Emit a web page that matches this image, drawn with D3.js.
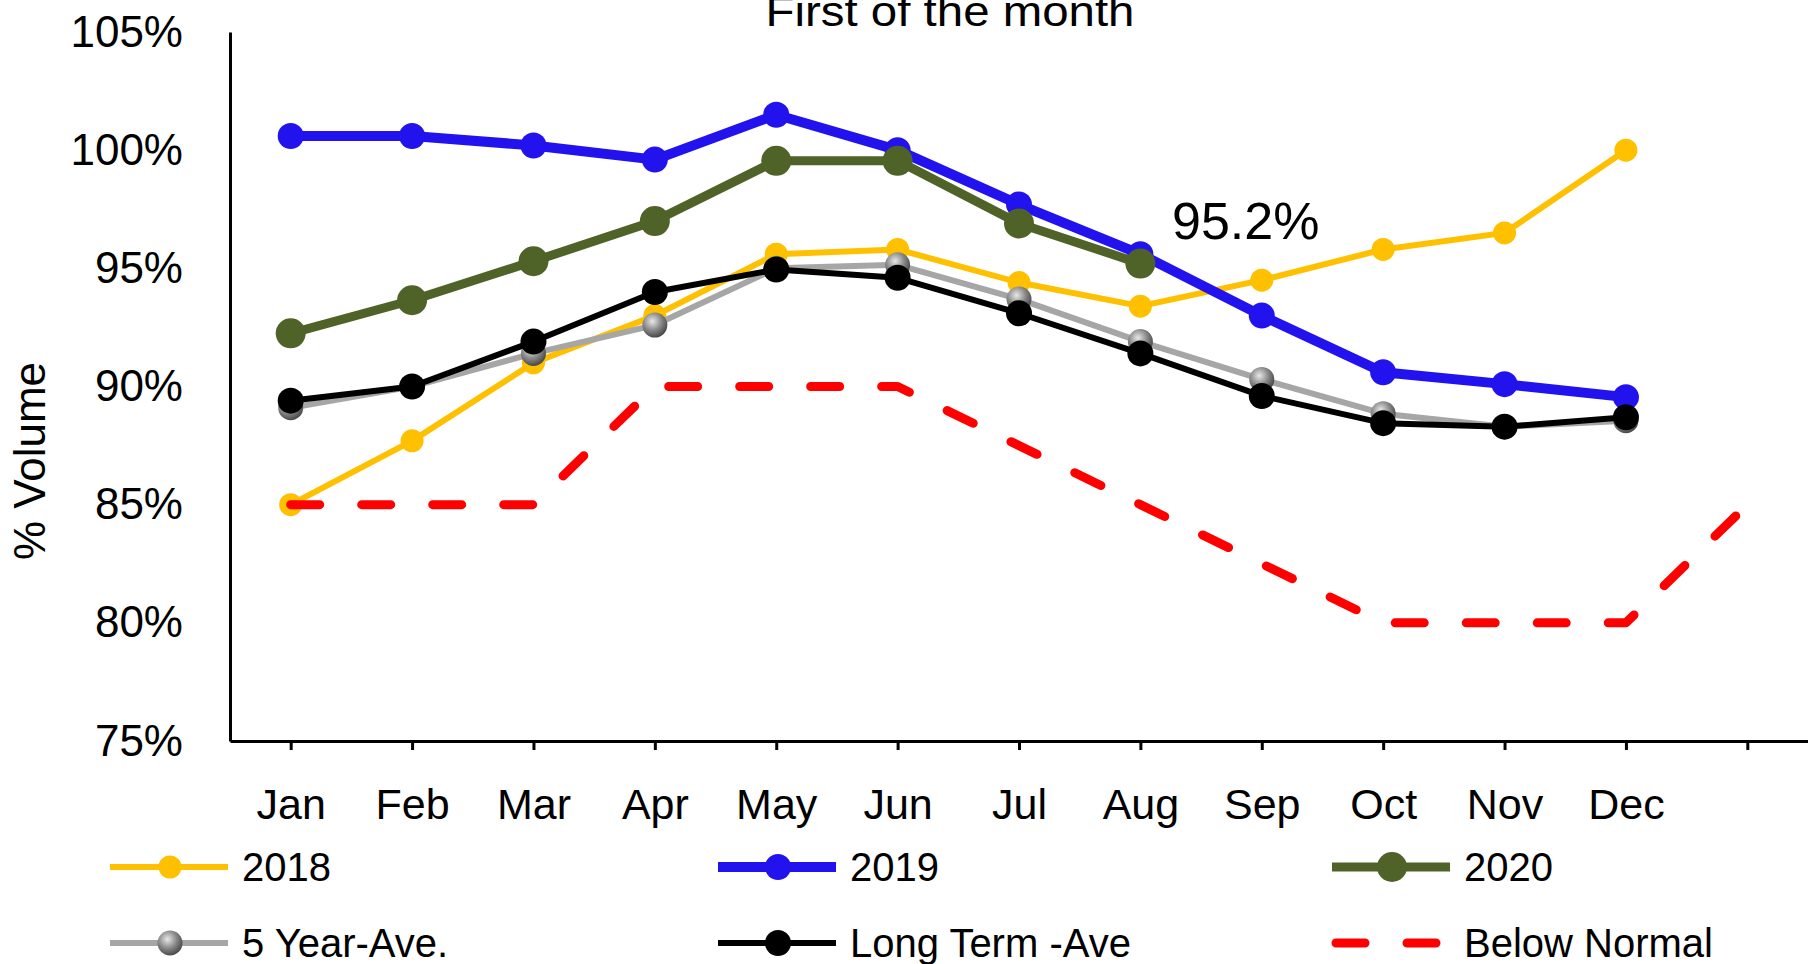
<!DOCTYPE html>
<html>
<head>
<meta charset="utf-8">
<script src="https://cdn.jsdelivr.net/npm/d3@7"></script>
<style>
  html, body { margin: 0; padding: 0; background: #fff; }
  svg { display: block; }
  text { font-family: "Liberation Sans", Arial, sans-serif; fill: #000; }
</style>
</head>
<body>
<svg id="chart" width="1808" height="964"></svg>
<script>
// ---- data ----
const months = ["Jan", "Feb", "Mar", "Apr", "May", "Jun", "Jul", "Aug", "Sep", "Oct", "Nov", "Dec", ""];
const yTicks = [75, 80, 85, 90, 95, 100, 105];
const s2018 = [85.0, 87.7, 91.0, 93.0, 95.6, 95.8, 94.4, 93.4, 94.5, 95.8, 96.5, 100.0];
const s2019 = [100.6, 100.6, 100.2, 99.6, 101.5, 100.0, 97.7, 95.6, 93.0, 90.6, 90.1, 89.55];
const s2020 = [92.25, 93.65, 95.3, 97.0, 99.55, 99.55, 96.9, 95.2];
const s5yr = [89.1, 90.0, 91.4, 92.6, 95.0, 95.15, 93.7, 91.9, 90.3, 88.85, 88.3, 88.55];
const sLT = [89.4, 90.0, 91.9, 94.0, 94.95, 94.6, 93.1, 91.4, 89.6, 88.45, 88.3, 88.7];
const sBelow = [85, 85, 85, 90, 90, 90, 87.5, 85, 82.5, 80, 80, 80, 85];
const title = "First of the month";
const yTitle = "% Volume";
const annotation = "95.2%";

const series = [
  { name: "2018", values: s2018, color: "#FFC000", width: 6, r: 11.5, dash: null, marker: "solid" },
  { name: "2019", values: s2019, color: "#2212EE", width: 10, r: 13, dash: null, marker: "solid" },
  { name: "2020", values: s2020, color: "#4F6228", width: 9, r: 15, dash: null, marker: "solid" },
  { name: "5 Year-Ave.", values: s5yr, color: "#A6A6A6", width: 6, r: 12.5, dash: null, marker: "grad" },
  { name: "Long Term -Ave", values: sLT, color: "#000000", width: 6, r: 13, dash: null, marker: "solid" },
  { name: "Below Normal", values: sBelow, color: "#FF0000", width: 9, r: 0, dash: "29,42", marker: "none" }
];

// ---- scales ----
const svg = d3.select("#chart");
const x = d3.scalePoint().domain(d3.range(months.length)).range([230, 1808]).padding(0.5);
const y = d3.scaleLinear().domain([75, 105]).range([741, 32]);

const defs = svg.append("defs");
const grad = defs.append("radialGradient").attr("id", "grayGrad")
  .attr("cx", "40%").attr("cy", "35%").attr("r", "65%");
grad.append("stop").attr("offset", "0%").attr("stop-color", "#e8e8e8");
grad.append("stop").attr("offset", "55%").attr("stop-color", "#8a8a8a");
grad.append("stop").attr("offset", "100%").attr("stop-color", "#4a4a4a");

// ---- axes ----
const yAxis = svg.append("g").attr("transform", "translate(230,0)")
  .call(d3.axisLeft(y).tickValues(yTicks).tickSize(0).tickPadding(47).tickFormat(d => d + "%"));
yAxis.select(".domain").attr("stroke", "#000").attr("stroke-width", 3);
yAxis.selectAll("text").attr("font-size", 44).attr("font-family", "Liberation Sans, Arial, sans-serif").attr("fill", "#000");

const xAxis = svg.append("g").attr("transform", "translate(0,741)")
  .call(d3.axisBottom(x).tickSizeInner(9).tickSizeOuter(0).tickPadding(38).tickFormat(i => months[i]));
xAxis.select(".domain").attr("stroke", "#000").attr("stroke-width", 3);
xAxis.selectAll(".tick line").attr("stroke", "#000").attr("stroke-width", 3);
xAxis.selectAll("text").attr("font-size", 43).attr("font-family", "Liberation Sans, Arial, sans-serif").attr("fill", "#000");

// titles
svg.append("text").attr("x", 950).attr("y", 26).attr("text-anchor", "middle")
  .attr("font-size", 42).attr("textLength", 369).attr("lengthAdjust", "spacingAndGlyphs").text(title);
svg.append("text").attr("transform", "translate(45,461) rotate(-90)").attr("text-anchor", "middle")
  .attr("font-size", 44).text(yTitle);

// ---- series ----
const line = d3.line().x((d, i) => x(i)).y(d => y(d));
const plot = svg.append("g");
series.forEach(s => {
  const g = plot.append("g");
  g.append("path").datum(s.values).attr("d", line)
    .attr("fill", "none").attr("stroke", s.color).attr("stroke-width", s.width)
    .attr("stroke-linejoin", "round")
    .attr("stroke-linecap", s.dash ? "round" : "butt")
    .attr("stroke-dasharray", s.dash);
  if (s.marker !== "none") {
    g.selectAll("circle").data(s.values).join("circle")
      .attr("cx", (d, i) => x(i)).attr("cy", d => y(d)).attr("r", s.r)
      .attr("fill", s.marker === "grad" ? "url(#grayGrad)" : s.color);
  }
});

// annotation
svg.append("text").attr("x", 1172).attr("y", 239).attr("font-size", 52).text(annotation);

// ---- legend ----
const legendCols = [110, 718, 1332];
const legendRows = [867, 943];
const legend = svg.append("g");
series.forEach((s, k) => {
  const lx = legendCols[k % 3], ly = legendRows[Math.floor(k / 3)];
  const g = legend.append("g");
  if (s.dash) {
    g.append("line").attr("x1", lx + 4).attr("x2", lx + 114).attr("y1", ly).attr("y2", ly)
      .attr("stroke", s.color).attr("stroke-width", s.width).attr("stroke-linecap", "round")
      .attr("stroke-dasharray", "29,42");
  } else {
    g.append("line").attr("x1", lx).attr("x2", lx + 118).attr("y1", ly).attr("y2", ly)
      .attr("stroke", s.color).attr("stroke-width", s.width);
    g.append("circle").attr("cx", lx + 60).attr("cy", ly).attr("r", s.r)
      .attr("fill", s.marker === "grad" ? "url(#grayGrad)" : s.color);
  }
  g.append("text").attr("x", lx + 132).attr("y", ly).attr("dy", "0.36em")
    .attr("font-size", 40).text(s.name);
});
</script>
</body>
</html>
